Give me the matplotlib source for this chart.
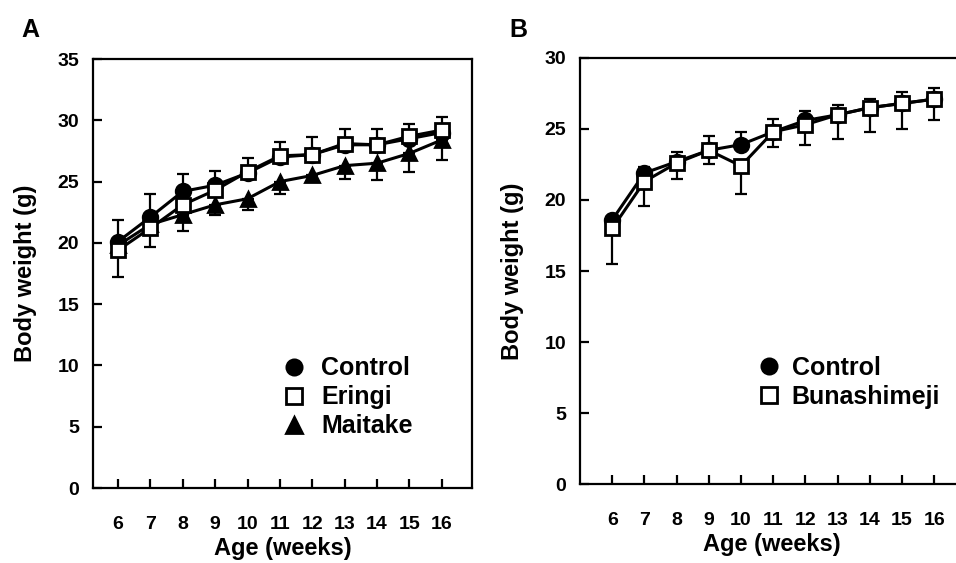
import matplotlib
matplotlib.use("Agg")
import matplotlib.pyplot as plt
from matplotlib.lines import Line2D
import numpy as np

plt.rcParams['font.family'] = ['Liberation Sans', 'DejaVu Sans']
plt.rcParams['font.weight'] = 'bold'

weeks = [6, 7, 8, 9, 10, 11, 12, 13, 14, 15, 16]

# Panel A
a_control = [20.1, 22.1, 24.2, 24.7, 25.7, 27.0, 27.2, 28.0, 28.0, 28.5, 29.0]
a_control_up = [1.8, 1.9, 1.4, 1.2, 1.2, 1.2, 1.4, 1.3, 1.3, 1.2, 1.3]
a_eringi = [19.4, 21.2, 23.1, 24.3, 25.8, 27.1, 27.2, 28.1, 28.0, 28.7, 29.2]
a_eringi_low = [2.2, 1.5, 0, 0, 0.5, 0.4, 0, 0, 0, 0, 0]
a_maitake = [19.8, 21.5, 22.3, 23.1, 23.6, 25.0, 25.5, 26.3, 26.5, 27.3, 28.4]
a_maitake_low = [0.3, 0.4, 1.3, 0.8, 0.9, 1.0, 0.4, 1.1, 1.4, 1.5, 1.6]

# Panel B
b_control = [18.6, 21.9, 22.7, 23.5, 23.9, 24.8, 25.6, 26.0, 26.5, 26.8, 27.1]
b_control_up = [0.2, 0.4, 0.7, 1.0, 0.9, 0.9, 0.7, 0.7, 0.6, 0.8, 0.8]
b_buna = [18.0, 21.3, 22.6, 23.5, 22.4, 24.8, 25.3, 26.0, 26.5, 26.8, 27.1]
b_buna_low = [2.5, 1.7, 1.1, 1.0, 2.0, 1.1, 1.4, 1.7, 1.7, 1.8, 1.5]

fig = plt.figure(figsize=(9.56, 5.63), dpi=100)
axA = fig.add_axes([0.0973, 0.1332, 0.3964, 0.762])
axB = fig.add_axes([0.6067, 0.1403, 0.4008, 0.7567])

def err(ax, x, y, e, upper):
    x = np.asarray(x); y = np.asarray(y); e = np.asarray(e)
    m = e > 0
    if upper:
        yerr = [np.zeros(m.sum()), e[m]]
    else:
        yerr = [e[m], np.zeros(m.sum())]
    ax.errorbar(x[m], y[m], yerr=yerr, fmt='none', ecolor='black',
                elinewidth=1.6, capsize=4.5, capthick=1.6, zorder=2)

def series(ax, x, y, marker, fill, z, ms=10.5):
    ax.plot(x, y, color='black', lw=2.2, marker=marker, ms=ms,
            mfc=fill, mec='black', mew=2, zorder=z)

err(axA, weeks, a_control, a_control_up, True)
err(axA, weeks, a_eringi, a_eringi_low, False)
err(axA, weeks, a_maitake, a_maitake_low, False)
series(axA, weeks, a_maitake, '^', 'black', 3)
series(axA, weeks, a_control, 'o', 'black', 4)
series(axA, weeks, a_eringi, 's', 'white', 5)

err(axB, weeks, b_control, b_control_up, True)
err(axB, weeks, b_buna, b_buna_low, False)
series(axB, weeks, b_control, 'o', 'black', 4)
series(axB, weeks, b_buna, 's', 'white', 5)

def style(ax, ylim, yticks, xlim):
    ax.set_xlim(*xlim)
    ax.set_ylim(*ylim)
    ax.set_xticks(weeks)
    ax.set_yticks(yticks)
    for s in ax.spines.values():
        s.set_linewidth(1.6)
    ax.tick_params(direction='in', length=6.5, width=1.6, labelsize=14)
    ax.tick_params(axis='x', pad=20)
    ax.tick_params(axis='y', pad=10)
    for lab in ax.get_xticklabels() + ax.get_yticklabels():
        lab.set_fontweight('bold')
    ax.set_xlabel('Age (weeks)', fontsize=17, fontweight='bold', labelpad=3)
    ax.set_ylabel('Body weight (g)', fontsize=17, fontweight='bold', labelpad=15)

style(axA, (0, 35), [0, 5, 10, 15, 20, 25, 30, 35], (5.23, 16.93))
style(axB, (0, 30), [0, 5, 10, 15, 20, 25, 30], (5.0, 16.9))

def mk(marker, fill):
    return Line2D([], [], ls='none', marker=marker, ms=11, mfc=fill, mec='black', mew=2)

legA = axA.legend([mk('o', 'black'), mk('s', 'white'), mk('^', 'black')],
                  ['Control', 'Eringi', 'Maitake'], frameon=False,
                  loc='upper left', bbox_to_anchor=(0.47, 0.33),
                  prop={'size': 18, 'weight': 'bold'}, handlelength=1.0,
                  handletextpad=0.6, labelspacing=0.2, borderaxespad=0)
legB = axB.legend([mk('o', 'black'), mk('s', 'white')],
                  ['Control', 'Bunashimeji'], frameon=False,
                  loc='upper left', bbox_to_anchor=(0.435, 0.325),
                  prop={'size': 18, 'weight': 'bold'}, handlelength=1.0,
                  handletextpad=0.4, labelspacing=0.2, borderaxespad=0)

fig.text(0.022, 0.925, 'A', fontsize=18, fontweight='bold', ha='left', va='bottom')
fig.text(0.533, 0.925, 'B', fontsize=18, fontweight='bold', ha='left', va='bottom')

fig.savefig('out.png', dpi=100)
